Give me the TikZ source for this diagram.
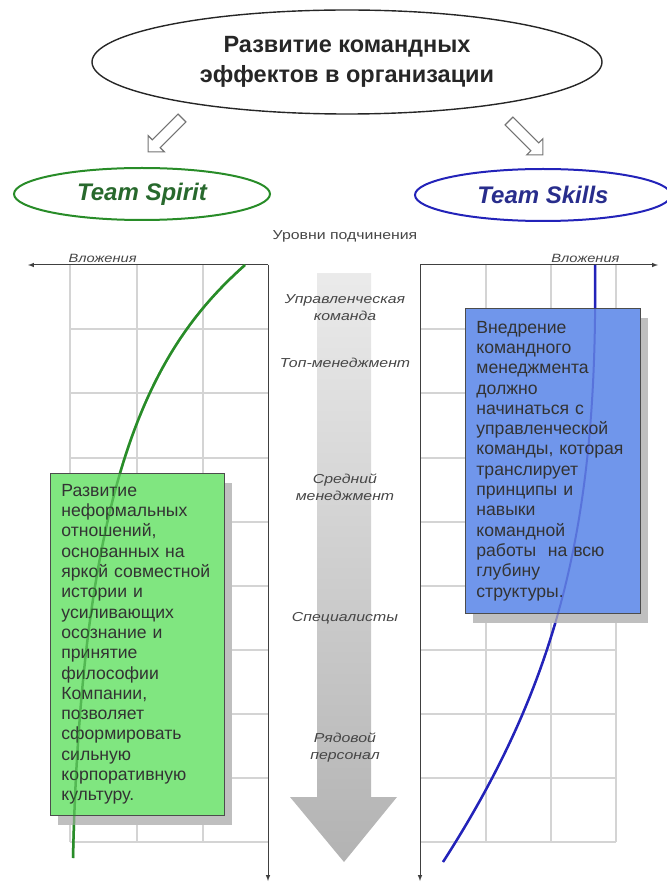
\documentclass[tikz,border=0pt]{standalone}
\usepackage{fontspec}
\setmainfont{Liberation Sans}
\newfontfamily\widesans[FakeStretch=1.22]{Liberation Sans}
\usetikzlibrary{positioning}
\usetikzlibrary{arrows}
\usetikzlibrary{shapes.geometric,shapes.arrows}
\definecolor{spiritline}{RGB}{40,140,40}
\definecolor{spirittext}{RGB}{40,105,45}
\definecolor{spiritfill}{RGB}{128,230,128}
\definecolor{skillsline}{RGB}{35,35,185}
\definecolor{skillstext}{RGB}{40,45,140}
\definecolor{skillsfill}{RGB}{112,150,235}
\definecolor{gridgray}{RGB}{212,212,212}
\definecolor{labelgray}{RGB}{70,70,70}

\begin{document}
\begin{tikzpicture}[x=1pt,y=-1pt,
  title/.style={ellipse, draw=black!85, line width=1.4pt, minimum width=510, minimum height=104, align=center, font=\fontsize{23.5}{30}\selectfont\bfseries, text=black!85},
  team/.style={ellipse, line width=2pt, minimum width=256, minimum height=52, font=\fontsize{24}{28}\selectfont\bfseries\itshape},
  hollow/.style={single arrow, draw=black!55, fill=white, line width=1.1pt, minimum height=48, minimum width=22, single arrow head extend=6, inner sep=5},
  gridline/.style={gridgray, line width=1.2pt},
  axis/.style={-latex, black!75, line width=1pt},
  note/.style={draw=black!70, line width=0.8pt, anchor=north west, align=left, inner xsep=11, font=\fontsize{17.6}{20.3}\selectfont, text=black!80},
  boxshadow/.style={fill=black!25},
  level/.style={font=\widesans\itshape\fontsize{13}{17}\selectfont, text=labelgray, align=center},
  invest/.style={font=\widesans\itshape\fontsize{12}{14}\selectfont, text=labelgray}]
\useasboundingbox (0,0) rectangle (666,882);

\node (title) [title] at (347,62) {Развитие командных\\эффектов в организации};
\node (spirit) [team, draw=spiritline, text=spirittext] at (142,194) {Team Spirit};
\node (skills) [team, draw=skillsline, text=skillstext] at (543,195) {Team Skills};
\node (toleft) [hollow, rotate=225] at (167,133) {};
\node (toright) [hollow, rotate=-45] at (524,136) {};

\foreach \x in {70,137,203} \draw[gridline] (\x,265) -- (\x,842);
\foreach \x in {486,551,616} \draw[gridline] (\x,265) -- (\x,842);
\foreach \y in {329,393,458,522,586,650,714,778,842} {
  \draw[gridline] (70,\y) -- (268,\y);
  \draw[gridline] (420,\y) -- (616,\y);
}

\coordinate (lo) at (268,265);
\coordinate (lx) at (28,265);
\coordinate (ly) at (268,881);
\coordinate (ro) at (420,265);
\coordinate (rx) at (658,265);
\coordinate (ry) at (420,881);
\draw[axis] (lo) -- (lx);
\draw[axis] (lo) -- (ly);
\draw[axis] (ro) -- (rx);
\draw[axis] (ro) -- (ry);
\node (linv) [invest, above right=1 and 37 of lx] {Вложения};
\node (rinv) [invest, above left=1 and 35 of rx] {Вложения};

\shade[top color=black!8, bottom color=black!30] (317,273) -- (371,273) -- (371,797) -- (397,797) -- (344,862) -- (290,797) -- (317,797) -- cycle;
\node (levels) [font=\widesans\fontsize{13}{14}\selectfont, text=labelgray] at (345,236) {Уровни подчинения};
\node (lv1) [level] at (345,308) {Управленческая\\команда};
\node (lv2) [level] at (345,363) {Топ-менеджмент};
\node (lv3) [level] at (345,487) {Средний\\менеджмент};
\node (lv4) [level] at (345,618) {Специалисты};
\node (lv5) [level] at (345,748) {Рядовой\\персонал};

\draw[spiritline, line width=2.5pt] (245,265) .. controls (155,345) and (82,470) .. (73,858);
\draw[skillsline, line width=2.5pt] (595,265) .. controls (598,520) and (560,680) .. (443,862);

\fill[boxshadow] (58,483) rectangle (232,825);
\node (spiritnote) [note, fill=spiritfill, minimum width=174, minimum height=342, text width=152] at (50,473) {Развитие\\неформальных\\отношений,\\основанных на\\яркой совместной\\истории и\\усиливающих\\осознание и\\принятие\\философии\\Компании,\\позволяет\\сформировать\\сильную\\корпоративную\\культуру.};
\fill[boxshadow] (473,318) rectangle (648,623);
\node (skillsnote) [note, fill=skillsfill, minimum width=175, minimum height=305, text width=153] at (465,308) {Внедрение\\командного\\менеджмента\\должно\\начинаться с\\управленческой\\команды, которая\\транслирует\\принципы и\\навыки\\командной\\работы~ на всю\\глубину\\структуры.};

\draw[spiritline, line width=2.5pt, opacity=0.5] (245,265) .. controls (155,345) and (82,470) .. (73,858);
\draw[skillsline, line width=2pt, opacity=0.3] (595,265) .. controls (598,520) and (560,680) .. (443,862);
\end{tikzpicture}
\end{document}
